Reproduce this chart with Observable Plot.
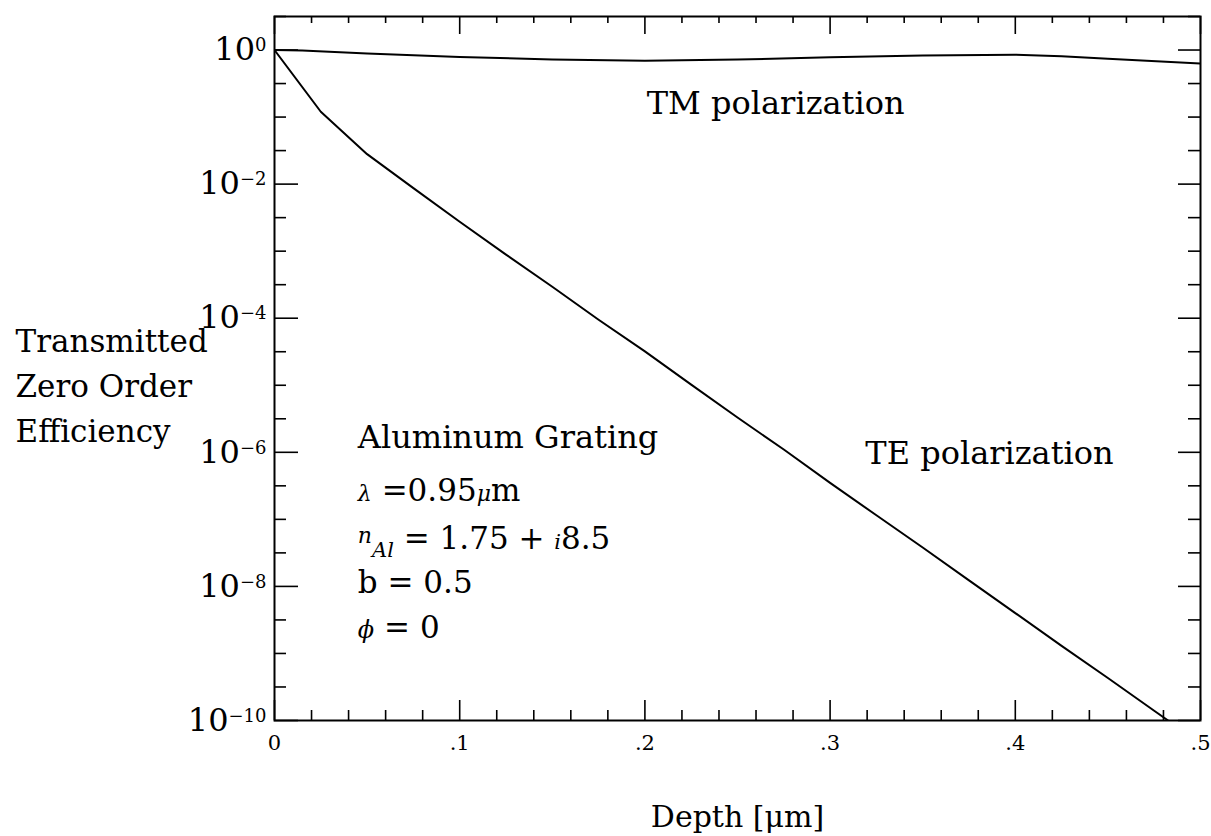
<!DOCTYPE html>
<html>
<head>
<meta charset="utf-8">
<script src="https://cdn.jsdelivr.net/npm/d3@7"></script>
<script src="https://cdn.jsdelivr.net/npm/@observablehq/plot@0.6"></script>
<style>
  html, body { margin: 0; padding: 0; background: #fff; }
</style>
</head>
<body>
<div id="chart"></div>
<script>
// ---- data ----
const tmDepth = [0, 0.015, 0.05, 0.1, 0.15, 0.2, 0.25, 0.3, 0.35, 0.4, 0.425, 0.45, 0.5];
const tmValue = [1.0, 0.98, 0.89, 0.79, 0.72, 0.69, 0.72, 0.78, 0.83, 0.85, 0.81, 0.74, 0.63];

const teDepth = [0, 0.025, 0.05, 0.075, 0.1, 0.125, 0.15, 0.175, 0.2, 0.225, 0.25, 0.275,
                 0.3, 0.325, 0.35, 0.375, 0.4, 0.425, 0.45, 0.475, 0.4825];
const teValue = [1.0, 1.2e-1, 2.8e-2, 8.7e-3, 2.75e-3, 8.9e-4, 2.95e-4, 9.5e-5, 3.2e-5, 1.02e-5,
                 3.3e-6, 1.1e-6, 3.5e-7, 1.15e-7, 3.8e-8, 1.23e-8, 4.0e-9, 1.3e-9, 4.3e-10,
                 1.4e-10, 1.0e-10];

const yMajorTicks = [1e0, 1e-2, 1e-4, 1e-6, 1e-8, 1e-10];
const yMinorExps = [0.5, -0.5, -1, -1.5, -2.5, -3, -3.5, -4.5, -5, -5.5, -6.5, -7, -7.5,
                    -8.5, -9, -9.5];
const xMajorTicks = [0, 0.1, 0.2, 0.3, 0.4, 0.5];
const xMinorTicks = [0.02, 0.04, 0.06, 0.08, 0.12, 0.14, 0.16, 0.18, 0.22, 0.24, 0.26, 0.28,
                     0.32, 0.34, 0.36, 0.38, 0.42, 0.44, 0.46, 0.48];

const yLabel = "Transmitted\nZero Order\nEfficiency";
const xLabel = "Depth [μm]";
const tmLabel = "TM polarization";
const teLabel = "TE polarization";
const paramLines = ["Aluminum Grating", "λ =0.95μm", "nAl = 1.75 + i8.5", "b = 0.5", "ϕ = 0"];

// ---- layout ----
const W = 1211, H = 836;
const mL = 274, mR = 11, mT = 16, mB = 116;
const fw = W - mL - mR, fh = H - mT - mB;

const tm = tmDepth.map((d, i) => ({depth: d, eff: tmValue[i]}));
const te = teDepth.map((d, i) => ({depth: d, eff: teValue[i]}));
const yMinor = yMinorExps.map(e => Math.pow(10, e));

const fmtX = d => d === 0 ? "0" : d.toFixed(1).replace(/^0/, "");

const ann = {fill: "#000", textAnchor: "start", lineAnchor: "bottom", fontSize: 32};

const chart = Plot.plot({
  width: W, height: H,
  marginLeft: mL, marginRight: mR, marginTop: mT, marginBottom: mB,
  style: {fontFamily: "'DejaVu Serif', serif", fontSize: "30px", background: "#fff", color: "#000"},
  x: {domain: [0, 0.5]},
  y: {type: "log", domain: [1e-10, Math.sqrt(10)]},
  marks: [
    // inward ticks on all four sides
    Plot.tickY(yMajorTicks, {y: d => d, insetRight: fw - 24, stroke: "#000", strokeWidth: 1.6}),
    Plot.tickY(yMinor, {y: d => d, insetRight: fw - 12, stroke: "#000", strokeWidth: 1.6}),
    Plot.tickY(yMajorTicks, {y: d => d, insetLeft: fw - 22, stroke: "#000", strokeWidth: 1.6}),
    Plot.tickY(yMinor, {y: d => d, insetLeft: fw - 12, stroke: "#000", strokeWidth: 1.6}),
    Plot.tickX(xMajorTicks, {x: d => d, insetTop: fh - 20, stroke: "#000", strokeWidth: 1.6}),
    Plot.tickX(xMinorTicks, {x: d => d, insetTop: fh - 10, stroke: "#000", strokeWidth: 1.6}),
    Plot.tickX(xMajorTicks, {x: d => d, insetBottom: fh - 18, stroke: "#000", strokeWidth: 1.6}),
    Plot.tickX(xMinorTicks, {x: d => d, insetBottom: fh - 7, stroke: "#000", strokeWidth: 1.6}),
    Plot.frame({stroke: "#000", strokeWidth: 2}),
    // curves
    Plot.line(tm, {x: "depth", y: "eff", stroke: "#000", strokeWidth: 2, clip: true}),
    Plot.line(te, {x: "depth", y: "eff", stroke: "#000", strokeWidth: 2, clip: true}),
    // axes
    Plot.axisY({ticks: yMajorTicks, tickSize: 0, tickPadding: 8, label: null, fontSize: 32,
                tickFormat: d => "10^" + Math.round(Math.log10(d))}),
    Plot.axisX({ticks: xMajorTicks, tickSize: 0, tickPadding: 15, label: null, fontSize: 21,
                tickFormat: fmtX}),
    // axis titles
    Plot.text([yLabel], {frameAnchor: "left", dx: -259, dy: 14, textAnchor: "start",
                         lineAnchor: "middle", lineHeight: 1.45, fontSize: 31, fill: "#000"}),
    Plot.text([xLabel], {frameAnchor: "bottom", dy: 106, lineAnchor: "bottom", fontSize: 30, fill: "#000"}),
    // annotations
    Plot.text([tmLabel], {...ann, x: 0.201, y: Math.pow(10, -0.96)}),
    Plot.text([teLabel], {...ann, x: 0.319, y: Math.pow(10, -6.17)}),
    Plot.text([paramLines[0]], {...ann, x: 0.045, y: Math.pow(10, -5.94)}),
    Plot.text([paramLines[1]], {...ann, x: 0.045, y: Math.pow(10, -6.73), fontSize: 31}),
    Plot.text([paramLines[2]], {...ann, x: 0.045, y: Math.pow(10, -7.44), fontSize: 31}),
    Plot.text([paramLines[3]], {...ann, x: 0.045, y: Math.pow(10, -8.10), fontSize: 31}),
    Plot.text([paramLines[4]], {...ann, x: 0.045, y: Math.pow(10, -8.77), fontSize: 31})
  ]
});

document.getElementById("chart").appendChild(chart);

// typographic touches: superscript exponents and math italics
chart.querySelectorAll('[aria-label="y-axis tick label"] text').forEach(t => {
  const m = /^10\^(-?\d+)$/.exec(t.textContent);
  if (!m) return;
  const e = m[1].replace("-", "\u2212");
  t.innerHTML = `10<tspan dy="-9" font-size="18">${e}</tspan>`;
});
chart.querySelectorAll("text").forEach(t => {
  const s = t.textContent;
  if (s === paramLines[1]) {
    t.innerHTML = `<tspan font-style="italic" font-size="22">λ</tspan> =0.95<tspan font-style="italic" font-size="22">μ</tspan>m`;
  } else if (s === paramLines[2]) {
    t.innerHTML = `<tspan font-style="italic" font-size="22" dy="-6">n</tspan><tspan font-style="italic" font-size="21" dy="14">Al</tspan><tspan dy="-8"> = 1.75 + </tspan><tspan font-style="italic" font-size="21">i</tspan>8.5`;
  } else if (s === paramLines[4]) {
    t.innerHTML = `<tspan font-style="italic" font-size="24">ϕ</tspan> = 0`;
  }
});
</script>
</body>
</html>
